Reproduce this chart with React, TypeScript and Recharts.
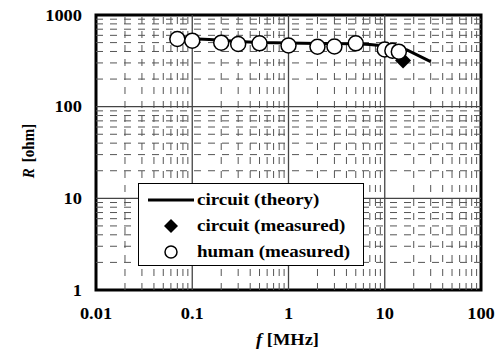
import React from "react";
import {
  ComposedChart,
  Line,
  Scatter,
  XAxis,
  YAxis,
  ReferenceLine,
  ReferenceArea,
} from "recharts";

// Frequency ticks (MHz) and resistance ticks (ohm)
const xTicks = [0.01, 0.1, 1, 10, 100];
const yTicks = [1, 10, 100, 1000];
const xMajor = [0.1, 1, 10];
const yMajor = [10, 100];
const xMinor = [
  0.02, 0.03, 0.04, 0.05, 0.06, 0.07, 0.08, 0.09,
  0.2, 0.3, 0.4, 0.5, 0.6, 0.7, 0.8, 0.9,
  2, 3, 4, 5, 6, 7, 8, 9,
  20, 30, 40, 50, 60, 70, 80, 90,
];
const yMinor = [
  2, 3, 4, 5, 6, 7, 8, 9,
  20, 30, 40, 50, 60, 70, 80, 90,
  200, 300, 400, 500, 600, 700, 800, 900,
];

// circuit (theory)
const theoryF = [0.07, 0.1, 0.15, 0.2, 0.3, 0.5, 1, 2, 5, 7, 10, 17, 30];
const theoryR = [555, 550, 540, 530, 515, 502, 495, 490, 485, 478, 460, 415, 310];

// circuit (measured)
const circuitF = [15.5];
const circuitR = [318];

// human (measured)
const humanF = [0.07, 0.1, 0.2, 0.3, 0.5, 1, 2, 3, 5, 10, 12, 14];
const humanR = [547, 525, 499, 483, 491, 465, 450, 453, 491, 420, 408, 398];

const legendLabels = ["circuit (theory)", "circuit (measured)", "human (measured)"];

const theoryData = theoryF.map((f, i) => ({ f, R: theoryR[i] }));
const circuitData = circuitF.map((f, i) => ({ f, R: circuitR[i] }));
const humanData = humanF.map((f, i) => ({ f, R: humanR[i] }));

const FONT = "'Liberation Serif', 'Times New Roman', serif";
const STRETCH = 1.15;

const Circle = (props: any) => {
  const { cx, cy } = props;
  if (cx == null || cy == null) return null;
  return <circle cx={cx} cy={cy} r={7.5} fill="#fff" stroke="#000" strokeWidth={1.5} />;
};

const Diamond = (props: any) => {
  const { cx, cy } = props;
  if (cx == null || cy == null) return null;
  const s = 8;
  return (
    <path
      d={`M${cx},${cy - s} L${cx + s},${cy} L${cx},${cy + s} L${cx - s},${cy} Z`}
      fill="#000"
    />
  );
};

const XTick = (props: any) => {
  const { x, y, payload } = props;
  return (
    <text
      transform={`translate(${x},${y}) scale(${STRETCH},1)`}
      textAnchor="middle"
      dy="0.71em"
      style={{ fontFamily: FONT, fontWeight: "bold", fontSize: 16, fill: "#000" }}
    >
      {String(payload.value)}
    </text>
  );
};

const YTick = (props: any) => {
  const { x, y, payload } = props;
  return (
    <text
      transform={`translate(${x},${y}) scale(${STRETCH},1)`}
      textAnchor="end"
      dy="0.355em"
      style={{ fontFamily: FONT, fontWeight: "bold", fontSize: 16, fill: "#000" }}
    >
      {String(payload.value)}
    </text>
  );
};

const LegendBox = () => {
  const rowStyle: React.CSSProperties = {
    display: "flex",
    alignItems: "center",
    height: 26,
  };
  const textStyle: React.CSSProperties = {
    fontFamily: FONT,
    fontWeight: "bold",
    fontSize: 16.5,
    color: "#000",
    whiteSpace: "nowrap",
    display: "inline-block",
    transform: `scaleX(${STRETCH})`,
    transformOrigin: "left center",
  };
  const symbols = [
    <line key="l" x1={9} y1={13} x2={55} y2={13} stroke="#000" strokeWidth={3} />,
    <path key="d" d="M32,6 L39,13 L32,20 L25,13 Z" fill="#000" />,
    <circle key="c" cx={32} cy={13} r={6} fill="#fff" stroke="#000" strokeWidth={1.5} />,
  ];
  return (
    <div
      style={{
        position: "absolute",
        left: 138,
        top: 183,
        width: 226,
        height: 83,
        boxSizing: "border-box",
        border: "1px solid #000",
        background: "#fff",
        paddingTop: 3,
      }}
    >
      {legendLabels.map((lab, i) => (
        <div key={lab} style={rowStyle}>
          <svg width={58} height={26}>{symbols[i]}</svg>
          <span style={textStyle}>{lab}</span>
        </div>
      ))}
    </div>
  );
};

export default function App() {
  return (
    <div style={{ position: "absolute", left: 0, top: 0, width: 498, height: 352, background: "#fff" }}>
      <ComposedChart
        width={498}
        height={352}
        margin={{ top: 15, right: 17, bottom: 0, left: 0 }}
      >
        <XAxis
          dataKey="f"
          type="number"
          scale="log"
          domain={[0.01, 100]}
          ticks={xTicks}
          allowDataOverflow
          height={62}
          axisLine={false}
          tickLine={false}
          tickSize={6}
          tickMargin={12}
          tick={<XTick />}
          label={{
            value: "f [MHz]",
            content: (p: any) => {
              const vb = p.viewBox || { x: 96, width: 385 };
              const cx = vb.x + vb.width / 2 - 1;
              return (
                <text
                  transform={`translate(${cx},345) scale(${STRETCH},1)`}
                  textAnchor="middle"
                  style={{ fontFamily: FONT, fontWeight: "bold", fontSize: 16 }}
                >
                  <tspan fontStyle="italic">f</tspan>
                  <tspan> [MHz]</tspan>
                </text>
              );
            },
          }}
        />
        <YAxis
          dataKey="R"
          type="number"
          scale="log"
          domain={[1, 1000]}
          ticks={yTicks}
          allowDataOverflow
          width={96}
          axisLine={false}
          tickLine={false}
          tickSize={6}
          tickMargin={8}
          tick={<YTick />}
          label={{
            value: "R [ohm]",
            content: () => (
              <text
                transform="translate(30,151) rotate(-90) scale(1,1.15)"
                textAnchor="middle"
                dominantBaseline="middle"
                style={{ fontFamily: FONT, fontWeight: "bold", fontSize: 15 }}
              >
                <tspan fontStyle="italic">R</tspan>
                <tspan dx={6}>[ohm]</tspan>
              </text>
            ),
          }}
        />
        {xMinor.map((v) => (
          <ReferenceLine
            key={`xm${v}`}
            x={v}
            stroke="#555"
            strokeWidth={1}
            strokeDasharray="7 7"
            ifOverflow="hidden"
          />
        ))}
        {yMinor.map((v) => (
          <ReferenceLine
            key={`ym${v}`}
            y={v}
            stroke="#555"
            strokeWidth={1}
            strokeDasharray="7 7"
            ifOverflow="hidden"
          />
        ))}
        {xMajor.map((v) => (
          <ReferenceLine key={`xM${v}`} x={v} stroke="#444" strokeWidth={1.3} />
        ))}
        {yMajor.map((v) => (
          <ReferenceLine key={`yM${v}`} y={v} stroke="#444" strokeWidth={1.3} />
        ))}
        <Line
          data={theoryData}
          dataKey="R"
          type="linear"
          stroke="#000"
          strokeWidth={3}
          dot={false}
          activeDot={false}
          isAnimationActive={false}
          legendType="none"
        />
        <Scatter
          data={circuitData}
          dataKey="R"
          shape={<Diamond />}
          isAnimationActive={false}
          legendType="none"
        />
        <Scatter
          data={humanData}
          dataKey="R"
          shape={<Circle />}
          isAnimationActive={false}
          legendType="none"
        />
        <ReferenceArea
          x1={0.01}
          x2={100}
          y1={1}
          y2={1000}
          fill="none"
          fillOpacity={0}
          stroke="#000"
          strokeWidth={3}
          ifOverflow="visible"
        />
      </ComposedChart>
      <LegendBox />
    </div>
  );
}
